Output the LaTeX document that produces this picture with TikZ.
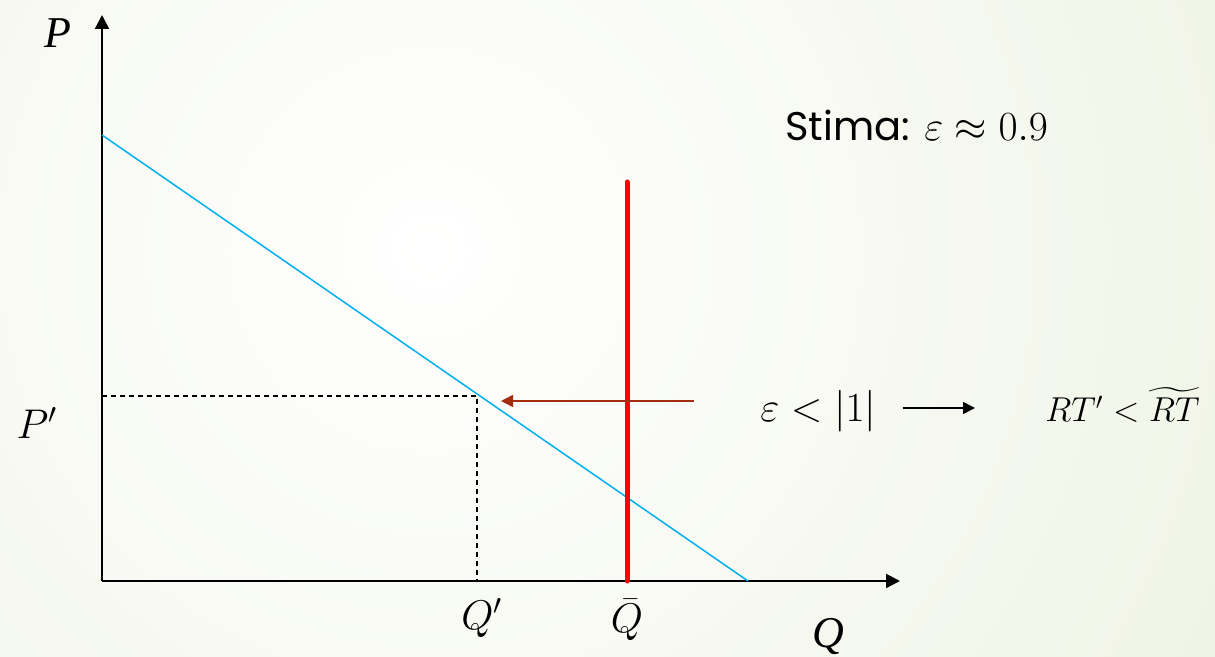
\documentclass[tikz,border=0pt]{standalone}
\usepackage{amsmath}
\usepackage{fontspec}
\usetikzlibrary{arrows.meta}
\newfontfamily\slidefont{Poppins}
\newfontfamily\axisfont{Liberation Serif}
\definecolor{demandblue}{RGB}{0,176,240}
\definecolor{shiftred}{RGB}{165,45,15}
\definecolor{slidebg}{RGB}{226,234,206}
\tikzset{
  axisline/.style={line width=1pt,-{Triangle[length=7pt,width=7pt]}},
  guideline/.style={line width=0.75pt,dash pattern=on 2.5pt off 2pt},
  axislbl/.style={font=\axisfont\itshape\fontsize{22}{26}\selectfont,inner sep=0pt},
  mathlbl/.style={font=\fontsize{20}{24}\selectfont,inner sep=0pt},
}
\begin{document}
\begin{tikzpicture}[x=0.5pt,y=-0.5pt]
    % sfondo
    \begin{scope}
        \clip (0,0) rectangle (1215,657);
        \shade[inner color=white, outer color=slidebg] (430,250) circle (850pt);
    \end{scope}
    \useasboundingbox (0,0) rectangle (1215,657);

    % punti
    \coordinate (O) at (102,581);
    \coordinate (ytop) at (102,15);
    \coordinate (xend) at (900,581);
    \coordinate (dtop) at (102,135);
    \coordinate (dbot) at (748,581);
    \coordinate (E) at (477,396);
    \coordinate (qtop) at (627,182);
    \coordinate (qbot) at (627,581);
    \coordinate (arrtail) at (694,401);
    \coordinate (arrtip) at (501,401);

    % assi
    \draw[axisline] (O) -- (ytop);
    \draw[axisline] (O) -- (xend);

    % domanda
    \draw[demandblue, line width=0.75pt] (dtop) -- (dbot);

    % tratteggi
    \draw[guideline] (O |- E) -- (E) -- (E |- O);

    % offerta rigida
    \draw[red, line width=2.5pt, line cap=round] (qbot) -- (qtop);

    % spostamento
    \draw[shiftred, line width=0.75pt, -{Triangle[length=6pt,width=6pt]}] (arrtail) -- (arrtip);

    % etichette
    \node[axislbl] (plab) at (58,33) {P};
    \node[axislbl] (qlab) at (828,636) {Q};
    \node[mathlbl] (pprime) at (37,423) {$P'$};
    \node[mathlbl] (qprime) at (482,618) {$Q'$};
    \node[mathlbl] (qbar) at (627,620) {$\bar{Q}$};
    \node[mathlbl, anchor=base west, font=\slidefont\fontsize{20}{24}\selectfont] (stima) at (785,141) {Stima: $\varepsilon \approx 0.9$};
    \node[mathlbl, anchor=base west] (eps) at (760,422) {$\varepsilon < |1|$};
    \node[mathlbl, anchor=base west, font=\fontsize{17.5}{21}\selectfont] (rt) at (1045,422) {$RT' < \widetilde{RT}$};
    \draw[line width=0.75pt, -{Triangle[length=6pt,width=6pt]}, shorten <=13pt, shorten >=35pt] (eps.east |- 0,408) -- (rt.west |- 0,408);
\end{tikzpicture}
\end{document}
